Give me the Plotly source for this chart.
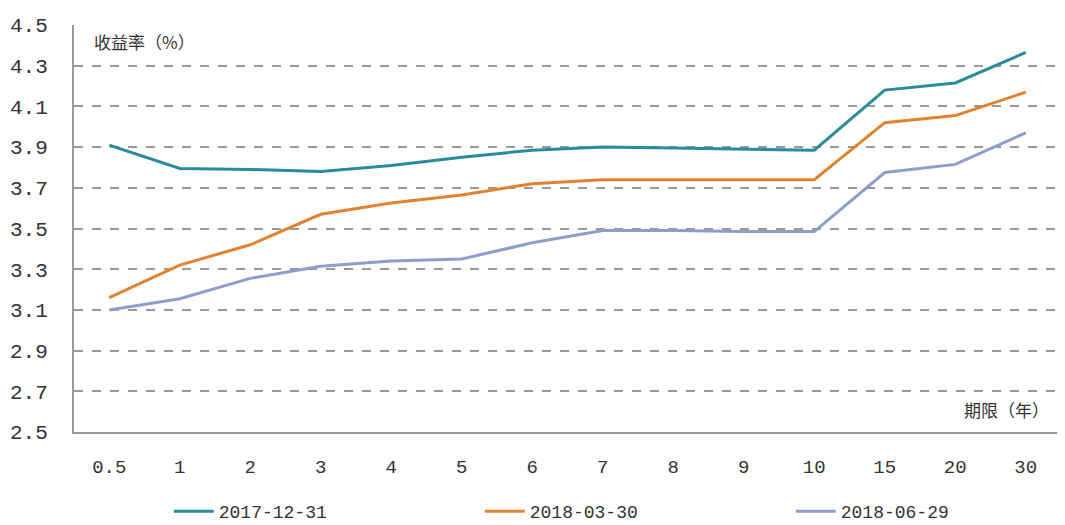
import plotly.graph_objects as go

categories = ["0.5", "1", "2", "3", "4", "5", "6", "7", "8", "9", "10", "15", "20", "30"]
series_names = ["2017-12-31", "2018-03-30", "2018-06-29"]
s2017_12_31 = [3.91, 3.795, 3.79, 3.78, 3.81, 3.85, 3.885, 3.90, 3.895, 3.89, 3.885, 4.18, 4.215, 4.365]
s2018_03_30 = [3.16, 3.32, 3.42, 3.57, 3.625, 3.665, 3.72, 3.74, 3.74, 3.74, 3.74, 4.02, 4.055, 4.17]
s2018_06_29 = [3.10, 3.155, 3.255, 3.315, 3.34, 3.35, 3.43, 3.49, 3.49, 3.485, 3.485, 3.775, 3.815, 3.97]
y_ticks = [2.5, 2.7, 2.9, 3.1, 3.3, 3.5, 3.7, 3.9, 4.1, 4.3, 4.5]
colors = ["#2B8A9B", "#E0822F", "#8E9ECB"]

fig = go.Figure()
for name, vals, col in zip(series_names, [s2017_12_31, s2018_03_30, s2018_06_29], colors):
    fig.add_trace(go.Scatter(x=categories, y=vals, mode="lines", name=name,
                             line=dict(color=col, width=3)))

fig.update_layout(
    width=1057, height=517,
    margin=dict(l=66, r=4, t=17, b=93, autoexpand=False),
    paper_bgcolor="white", plot_bgcolor="white",
    font=dict(family="Liberation Mono, monospace", color="#333"),
    legend=dict(orientation="h", x=0.096, xanchor="left", y=-0.15, yanchor="top",
                entrywidth=256, entrywidthmode="pixels",
                font=dict(size=18, family="Liberation Mono, monospace"), itemwidth=40),
    showlegend=True,
)
fig.update_xaxes(type="category", range=[-0.5, 13.5], showgrid=False,
                 showline=True, linecolor="#999", linewidth=2,
                 ticks="", tickfont=dict(size=19), ticklabelstandoff=16)
fig.update_yaxes(range=[2.5, 4.5], tickvals=y_ticks, ticktext=[f"{v:.1f}" for v in y_ticks],
                 showgrid=True, gridcolor="#999", griddash="dash", gridwidth=1.5,
                 showline=True, linecolor="#999", linewidth=2, zeroline=False,
                 ticks="", tickfont=dict(size=21), ticklabelstandoff=20)

fig.add_annotation(text="收益率（%）", xref="paper", yref="paper", x=0.018, y=0.995,
                   xanchor="left", yanchor="top", showarrow=False,
                   font=dict(family="Noto Sans CJK SC", size=17, color="#333"))
fig.add_annotation(text="期限（年）", xref="paper", yref="paper", x=0.99, y=0.02,
                   xanchor="right", yanchor="bottom", showarrow=False,
                   font=dict(family="Noto Sans CJK SC", size=17, color="#333"))

fig.write_html("out.html")
